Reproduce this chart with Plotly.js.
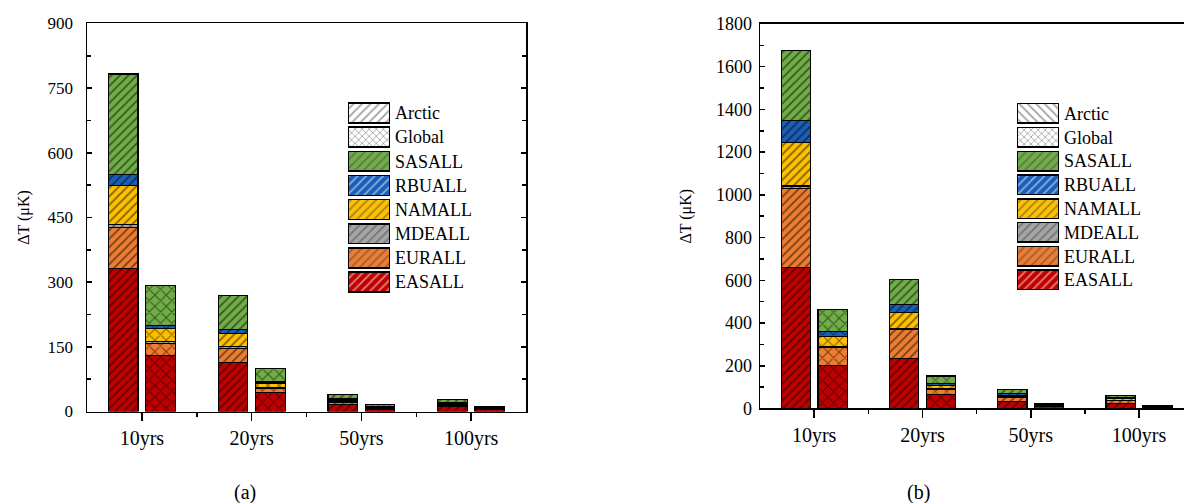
<!DOCTYPE html>
<html><head><meta charset="utf-8">
<script src="https://cdn.plot.ly/plotly-3.0.1.min.js"></script>
<style>html,body{margin:0;padding:0;background:#fff}#chart{width:1184px;height:503px}</style>
</head><body><div id="chart"></div>
<script>
// ---------------- DATA ----------------
const categories = ['10yrs', '20yrs', '50yrs', '100yrs'];
const sources = ['EASALL', 'EURALL', 'MDEALL', 'NAMALL', 'RBUALL', 'SASALL'];
const legendLabels = ['Arctic', 'Global', 'SASALL', 'RBUALL', 'NAMALL', 'MDEALL', 'EURALL', 'EASALL'];

// Panel (a): Arctic response (μK)
const aArcticEASALL = [331, 113, 16, 11];
const aArcticEURALL = [95, 34, 5, 4];
const aArcticMDEALL = [7, 3, 1, 1];
const aArcticNAMALL = [92, 31, 4, 3];
const aArcticRBUALL = [25, 9, 3, 2];
const aArcticSASALL = [233, 80, 10, 7];
// Panel (a): Global response (μK)
const aGlobalEASALL = [130, 44, 6, 5.5];
const aGlobalEURALL = [28, 10, 2, 2];
const aGlobalMDEALL = [4, 2, 0.5, 0.5];
const aGlobalNAMALL = [30, 10, 2, 1.5];
const aGlobalRBUALL = [8, 3, 1, 1];
const aGlobalSASALL = [92, 30, 4, 2];

// Panel (b): Arctic response (μK)
const bArcticEASALL = [661, 234, 33, 22];
const bArcticEURALL = [369, 138, 19, 14];
const bArcticMDEALL = [12, 3, 4, 3];
const bArcticNAMALL = [202, 73, 6, 6];
const bArcticRBUALL = [106, 39, 10, 5];
const bArcticSASALL = [325, 118, 18, 12];
// Panel (b): Global response (μK)
const bGlobalEASALL = [200, 64, 10, 6];
const bGlobalEURALL = [86, 25, 3, 2];
const bGlobalMDEALL = [5, 5, 1, 0.5];
const bGlobalNAMALL = [46, 12, 2, 1];
const bGlobalRBUALL = [25, 11, 2, 1];
const bGlobalSASALL = [102, 35, 4, 2];

// ---------------- STYLE ----------------
const FONT = 'Liberation Serif, serif';
const sourceColors = {EASALL: '#C00000', EURALL: '#ED7D31', MDEALL: '#A5A5A5',
                      NAMALL: '#FFC000', RBUALL: '#1A5EB8', SASALL: '#70AD47'};
const groupStyle = {
  Arctic: {offset: -0.17, shape: '/', size: 6, solidity: 0.3},
  Global: {offset: 0.17, shape: 'x', size: 8, solidity: 0.25}
};
const BAR_W = 0.27;

function stackTraces(groupName, arrays, xa, ya) {
  const st = groupStyle[groupName];
  return sources.map((s, k) => ({
    type: 'bar',
    name: groupName + ' ' + s,
    x: categories.map((c, i) => i + st.offset),
    y: arrays[k],
    width: BAR_W,
    xaxis: xa, yaxis: ya,
    showlegend: false,
    hovertemplate: groupName + ' ' + s + ': %{y} μK<extra></extra>',
    marker: {
      color: sourceColors[s],
      line: {color: '#000', width: 1.2},
      pattern: {shape: st.shape, fillmode: 'overlay', fgcolor: '#000', size: st.size, solidity: st.solidity}
    }
  }));
}

function legendTrace(xa, ya, arcticShape) {
  const colors = legendLabels.map(l => l === 'Arctic' || l === 'Global' ? '#ffffff' : sourceColors[l]);
  const shapes = legendLabels.map(l => l === 'Arctic' ? arcticShape : (l === 'Global' ? 'x' : '/'));
  const sizes = legendLabels.map(l => l === 'Global' ? 5 : 6);
  return {
    type: 'bar', orientation: 'h',
    x: legendLabels.map(() => 1), y: legendLabels,
    width: 0.82, xaxis: xa, yaxis: ya, showlegend: false, hoverinfo: 'skip',
    marker: {
      color: colors,
      line: {color: '#000', width: 1.5},
      pattern: {shape: shapes, fillmode: 'overlay', fgcolor: '#000', size: sizes, solidity: 0.3}
    }
  };
}

const traces = [].concat(
  stackTraces('Arctic', [aArcticEASALL, aArcticEURALL, aArcticMDEALL, aArcticNAMALL, aArcticRBUALL, aArcticSASALL], 'x', 'y'),
  stackTraces('Global', [aGlobalEASALL, aGlobalEURALL, aGlobalMDEALL, aGlobalNAMALL, aGlobalRBUALL, aGlobalSASALL], 'x', 'y'),
  stackTraces('Arctic', [bArcticEASALL, bArcticEURALL, bArcticMDEALL, bArcticNAMALL, bArcticRBUALL, bArcticSASALL], 'x2', 'y2'),
  stackTraces('Global', [bGlobalEASALL, bGlobalEURALL, bGlobalMDEALL, bGlobalNAMALL, bGlobalRBUALL, bGlobalSASALL], 'x2', 'y2'),
  [legendTrace('x3', 'y3', '/'), legendTrace('x4', 'y4', '\\')]
);

const tickIdx = categories.map((c, i) => i);
const minorIdx = categories.slice(1).map((c, i) => i + 0.5);

function xAxis(domain, range, anchor) {
  return {
    domain: domain, range: range, anchor: anchor,
    tickmode: 'array', tickvals: tickIdx, ticktext: categories,
    ticks: 'outside', ticklen: 8, tickwidth: 1.5, tickcolor: '#000',
    minor: {tickmode: 'array', tickvals: minorIdx, ticks: 'outside', ticklen: 4, tickwidth: 1.5, tickcolor: '#000'},
    showline: true, linewidth: 1.5, linecolor: '#000', mirror: true,
    showgrid: false, zeroline: false, fixedrange: true,
    tickfont: {family: FONT, size: 20, color: '#000'}
  };
}
function yAxis(domain, range, dtick, anchor, fontSize, mirror, standoff, labelGap) {
  return {
    domain: domain, range: range, anchor: anchor,
    tick0: 0, dtick: dtick,
    ticks: 'inside', ticklen: 5, tickwidth: 1.5, tickcolor: '#000',
    minor: {dtick: dtick / 2, ticks: 'inside', ticklen: 4, tickwidth: 1.5, tickcolor: '#000'},
    showline: true, linewidth: 1.5, linecolor: '#000', mirror: mirror,
    showgrid: false, zeroline: false, fixedrange: true,
    ticklabelstandoff: labelGap,
    tickfont: {family: FONT, size: fontSize, color: '#000'},
    title: {text: 'ΔT (μK)', font: {family: FONT, size: 16, color: '#000'}, standoff: standoff}
  };
}
function legendAxes(xdom, ydom, anchorX, anchorY) {
  return [
    {domain: xdom, range: [0, 1], anchor: anchorY, visible: false, fixedrange: true},
    {domain: ydom, anchor: anchorX, type: 'category', autorange: 'reversed', side: 'right',
     showline: false, ticks: '', showgrid: false, zeroline: false, fixedrange: true,
     ticklabelstandoff: 4,
     tickfont: {family: FONT, size: 18, color: '#000'}}
  ];
}
const [lx3, ly3] = legendAxes([348 / 1184, 390 / 1184], [0.4153, 0.7994], 'x3', 'y3');
const [lx4, ly4] = legendAxes([1017 / 1184, 1059 / 1184], [0.4197, 0.798], 'x4', 'y4');

const layout = {
  width: 1184, height: 503,
  margin: {l: 0, r: 0, t: 0, b: 0},
  paper_bgcolor: '#fff', plot_bgcolor: 'rgba(0,0,0,0)',
  barmode: 'stack',
  font: {family: FONT, color: '#000'},
  xaxis: xAxis([87 / 1184, 526 / 1184], [-0.5, 3.5], 'y'),
  yaxis: yAxis([0.1819, 0.9533], [0, 900], 150, 'x', 17, 'ticks', 14, 9),
  xaxis2: xAxis([760 / 1184, 1], [-0.5, 3.415], 'y2'),
  yaxis2: yAxis([0.1879, 0.9523], [0, 1800], 200, 'x2', 18, false, 20, 3),
  xaxis3: lx3, yaxis3: ly3,
  xaxis4: lx4, yaxis4: ly4,
  annotations: [
    {text: '(a)', xref: 'paper', yref: 'paper', x: 245 / 1184, y: 11 / 503, showarrow: false,
     xanchor: 'center', yanchor: 'middle', font: {family: FONT, size: 20, color: '#000'}},
    {text: '(b)', xref: 'paper', yref: 'paper', x: 918 / 1184, y: 11 / 503, showarrow: false,
     xanchor: 'center', yanchor: 'middle', font: {family: FONT, size: 20, color: '#000'}}
  ],
  showlegend: false
};

Plotly.newPlot('chart', traces, layout, {displayModeBar: false, staticPlot: true});
</script></body></html>
